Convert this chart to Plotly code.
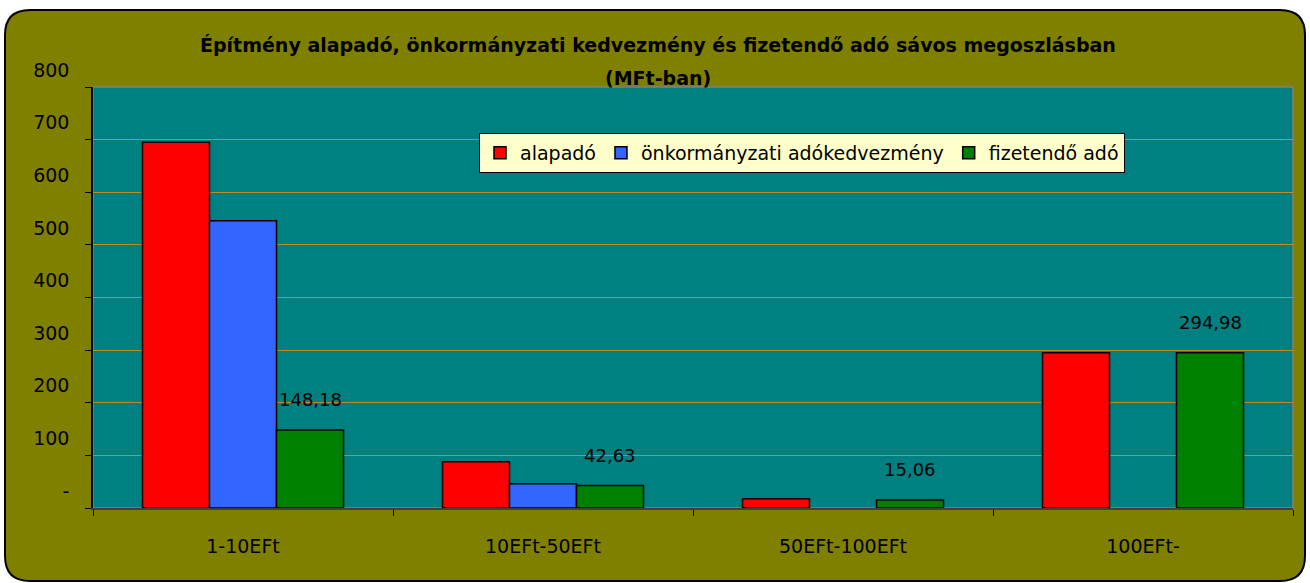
import plotly.graph_objects as go

categories = ["1-10EFt", "10EFt-50EFt", "50EFt-100EFt", "100EFt-"]
alapado = [695, 88, 17.5, 294.98]
kedvezmeny = [546, 46, None, None]
fizetendo = [148.18, 42.63, 15.06, 294.98]
series_names = ["alapadó", "önkormányzati adókedvezmény", "fizetendő adó"]
ytick_vals = [0, 100, 200, 300, 400, 500, 600, 700, 800]
ytick_text = ["-", "100", "200", "300", "400", "500", "600", "700", "800"]

FONT = "DejaVu Sans"
L, R, T, B = 93, 17, 87, 75
W, H = 1310, 583
pw, ph = W - L - R, H - T - B

def px_x(p):
    return (p - L) / pw

def px_y(p):
    return (H - B - p) / ph

fig = go.Figure()
colors = ["#FF0000", "#3366FF", "#008000"]
for name, vals, col in zip(series_names, [alapado, kedvezmeny, fizetendo], colors):
    fig.add_trace(go.Bar(
        x=categories, y=vals, name=name,
        marker=dict(color=col, line=dict(color="black", width=1.5)),
    ))

# data labels on green series
bar_px = pw / len(categories) * 0.67 / 3
for c, v in zip(categories, fizetendo):
    fig.add_annotation(
        x=c, y=v, xref="x", yref="y",
        text=f"{v:.2f}".replace(".", ","),
        showarrow=False, xshift=bar_px, yshift=18, yanchor="bottom",
        font=dict(family=FONT, size=18, color="black"),
    )

# outer rounded frame
x0, x1 = px_x(5), px_x(1305)
y0, y1 = px_y(581), px_y(10)
rx, ry = 25 / pw, 25 / ph
path = (f"M {x0+rx},{y1} L {x1-rx},{y1} Q {x1},{y1} {x1},{y1-ry} "
        f"L {x1},{y0+ry} Q {x1},{y0} {x1-rx},{y0} "
        f"L {x0+rx},{y0} Q {x0},{y0} {x0},{y0+ry} "
        f"L {x0},{y1-ry} Q {x0},{y1} {x0+rx},{y1} Z")
fig.add_shape(type="path", path=path, xref="paper", yref="paper",
              fillcolor="#808000", line=dict(color="black", width=2), layer="below")
fig.add_shape(type="rect", x0=0, x1=1, y0=0, y1=1, xref="paper", yref="paper",
              fillcolor="#008080", line=dict(color="#808080", width=1.5), layer="below")

fig.add_annotation(
    x=px_x(658), y=px_y(45), xref="paper", yref="paper", showarrow=False,
    text="<b>Építmény alapadó, önkormányzati kedvezmény és fizetendő adó sávos megoszlásban</b>",
    font=dict(family=FONT, size=19, color="black"), yanchor="middle",
)
fig.add_annotation(
    x=px_x(658), y=px_y(78), xref="paper", yref="paper", showarrow=False,
    text="<b>(MFt-ban)</b>",
    font=dict(family=FONT, size=19, color="black"), yanchor="middle",
)

fig.update_layout(
    width=W, height=H,
    margin=dict(l=L, r=R, t=T, b=B),
    paper_bgcolor="white",
    plot_bgcolor="rgba(0,0,0,0)",
    barmode="group", bargap=0.33, bargroupgap=0,
    font=dict(family=FONT, size=19, color="black"),
    showlegend=True,
    legend=dict(
        orientation="h", x=px_x(479), y=px_y(133), xanchor="left", yanchor="top",
        bgcolor="#FFFFCC", bordercolor="black", borderwidth=1,
        font=dict(family=FONT, size=19, color="black"),
        itemwidth=30, traceorder="normal",
    ),
    xaxis=dict(
        showgrid=False, showline=True, linecolor="#404040", linewidth=2,
        ticks="outside", tickson="boundaries", ticklen=6, tickcolor="black",
        tickfont=dict(family=FONT, size=19), ticklabelstandoff=20,
    ),
    yaxis=dict(
        range=[0, 800], tickvals=ytick_vals, ticktext=ytick_text,
        showgrid=True, gridcolor="#C08a20", gridwidth=1,
        showline=True, linecolor="black", linewidth=1.5,
        ticks="outside", ticklen=6, tickcolor="black",
        zeroline=False, ticklabelshift=-17, ticklabelstandoff=12,
        tickfont=dict(family=FONT, size=19),
    ),
)

fig.write_html("out.html", config={"displayModeBar": False},
               post_script="document.body.style.margin='0';")
